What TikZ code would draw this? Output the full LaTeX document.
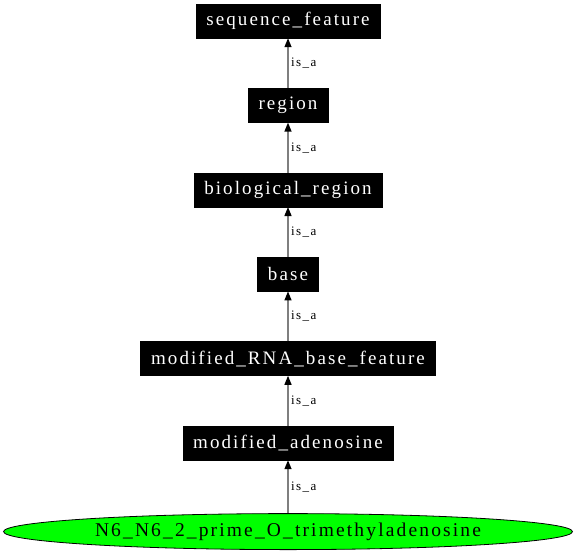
\documentclass[tikz,border=0pt]{standalone}
\usepackage{fontspec}
\usetikzlibrary{arrows.meta,positioning,shapes.geometric}
\newfontfamily\gvfont[LetterSpace=11]{Liberation Serif}
\definecolor{OntoEdge}{HTML}{7F7F7F}
\definecolor{OntoLeaf}{HTML}{00FF00}
\tikzset{
  termbox/.style={draw=black, fill=black, text=white, inner xsep=10.5pt,
                  minimum height=34pt, font=\gvfont\fontsize{19}{22}\selectfont},
  leafterm/.style={ellipse, draw=black, fill=OntoLeaf, line width=0.8pt,
                   minimum width=569pt, minimum height=36pt,
                   font=\gvfont\fontsize{19.5}{22}\selectfont},
  isa/.style={-{Triangle[length=9pt,width=7pt,color=black]}, line width=1.3pt, OntoEdge},
  isalabel/.style={right, inner sep=1pt, xshift=1.5pt,
                   font=\gvfont\fontsize{13}{15}\selectfont, text=black},
}
\begin{document}
\begin{tikzpicture}
  \useasboundingbox (0,0) rectangle (576pt,-555pt);

  % terms, top to bottom
  \node[termbox] (seqfeat) at (288pt,-21pt) {sequence\_feature};
  \node[termbox, below=50pt of seqfeat] (region) {region};
  \node[termbox, below=50pt of region] (bioregion) {biological\_region};
  \node[termbox, below=50pt of bioregion] (base) {base};
  \node[termbox, below=50pt of base] (modbase) {modified\_RNA\_base\_feature};
  \node[termbox, below=50pt of modbase] (modaden) {modified\_adenosine};
  \node[leafterm, below=53pt of modaden] (trimethyl) {N6\_N6\_2\_prime\_O\_trimethyladenosine};

  % is_a edges
  \draw[isa] (region) -- node[isalabel] {is\_a} (seqfeat);
  \draw[isa] (bioregion) -- node[isalabel] {is\_a} (region);
  \draw[isa] (base) -- node[isalabel] {is\_a} (bioregion);
  \draw[isa] (modbase) -- node[isalabel] {is\_a} (base);
  \draw[isa] (modaden) -- node[isalabel] {is\_a} (modbase);
  \draw[isa] (trimethyl) -- node[isalabel] {is\_a} (modaden);

\end{tikzpicture}
\end{document}
